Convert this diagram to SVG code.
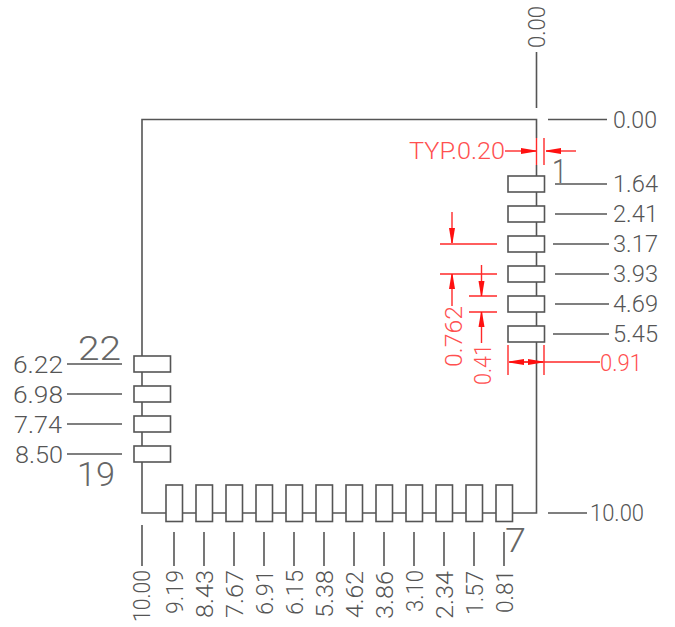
<svg xmlns="http://www.w3.org/2000/svg" width="675" height="627" viewBox="0 0 675 627">
<style>
text{font-family:Roboto,"Liberation Sans",Arial,sans-serif;font-weight:300;font-size:23.500px;fill:#555}
.big{font-size:34px;font-weight:300;fill:#666}
.r text{fill:#ff5050}
.l{stroke:#555;stroke-width:1.6;fill:none}
.pad{fill:#fff;stroke:#555;stroke-width:1.6}
.red{stroke:#ff2a2a;stroke-width:1.4;fill:none}
.a{marker-end:url(#ah)}
</style>
<defs>
<marker id="ah" markerUnits="userSpaceOnUse" markerWidth="16" markerHeight="8" refX="15" refY="4" orient="auto"><path d="M0 1L15 3.500V4.500L0 7z" fill="#ff1010"/></marker>
</defs>
<rect width="675" height="627" fill="#fff"/>
<g id="outline"><path class="l" d="M536.500 138V119.500H142V513H536.500V165"/></g>
<g id="connectors">
<g class="l">
<path d="M536.500 52V108M548 119.500H607M555 184H607M555 214H607M553 244H609M555 274H609M555 304H609M553 334H609M67 364H122M67 394H122M67 424H122M67 454H122M548 513H587"/>
<path d="M142 525V566M174 532V566M204 532V566M234 532V566M264 532V566M294 532V566M324 532V566M354 532V566M384 532V566M414 532V566M444 532V566M474 532V566M504 532V566"/>
</g>
<g class="red">
<path d="M536.500 138V165M544 138V165M440 244H497M440 274H497M469 296H497M469 312H497M508 345V375M544 345V375M510 362H600"/>
<path class="a" d="M505 151H536"/><path class="a" d="M576 151H546"/>
<path class="a" d="M452 212V243"/><path class="a" d="M452 306V274"/>
<path class="a" d="M481.500 265V296"/><path class="a" d="M481.500 343V312"/>
<path class="a" d="M526 362H509"/><path class="a" d="M526 362H543"/>
</g>
</g>
<g id="pad-1"><rect class="pad" x="508" y="176" width="36.500" height="16"/><text class="big" x="552" y="183" textLength="15" lengthAdjust="spacingAndGlyphs">1</text></g>
<g id="pad-2"><rect class="pad" x="508" y="206" width="36.500" height="16"/></g>
<g id="pad-3"><rect class="pad" x="508" y="236" width="36.500" height="16"/></g>
<g id="pad-4"><rect class="pad" x="508" y="266" width="36.500" height="16"/></g>
<g id="pad-5"><rect class="pad" x="508" y="296" width="36.500" height="16"/></g>
<g id="pad-6"><rect class="pad" x="508" y="326" width="36.500" height="16"/></g>
<g id="pad-22"><rect class="pad" x="134" y="356" width="36.500" height="16"/><text class="big" x="78" y="360" textLength="43" lengthAdjust="spacingAndGlyphs">22</text></g>
<g id="pad-21"><rect class="pad" x="134" y="386" width="36.500" height="16"/></g>
<g id="pad-20"><rect class="pad" x="134" y="416" width="36.500" height="16"/></g>
<g id="pad-19"><rect class="pad" x="134" y="446" width="36.500" height="16"/><text class="big" x="77" y="486" textLength="38" lengthAdjust="spacingAndGlyphs">19</text></g>
<g id="pad-18"><rect class="pad" x="166" y="485" width="16.500" height="36.500"/></g>
<g id="pad-17"><rect class="pad" x="196" y="485" width="16.500" height="36.500"/></g>
<g id="pad-16"><rect class="pad" x="226" y="485" width="16.500" height="36.500"/></g>
<g id="pad-15"><rect class="pad" x="256" y="485" width="16.500" height="36.500"/></g>
<g id="pad-14"><rect class="pad" x="286" y="485" width="16.500" height="36.500"/></g>
<g id="pad-13"><rect class="pad" x="316" y="485" width="16.500" height="36.500"/></g>
<g id="pad-12"><rect class="pad" x="346" y="485" width="16.500" height="36.500"/></g>
<g id="pad-11"><rect class="pad" x="376" y="485" width="16.500" height="36.500"/></g>
<g id="pad-10"><rect class="pad" x="406" y="485" width="16.500" height="36.500"/></g>
<g id="pad-9"><rect class="pad" x="436" y="485" width="16.500" height="36.500"/></g>
<g id="pad-8"><rect class="pad" x="466" y="485" width="16.500" height="36.500"/></g>
<g id="pad-7"><rect class="pad" x="496" y="485" width="16.500" height="36.500"/><text class="big" x="505" y="552" textLength="21" lengthAdjust="spacingAndGlyphs">7</text></g>
<g id="dimensions">
<text x="613" y="128" textLength="44" lengthAdjust="spacingAndGlyphs">0.00</text>
<text x="613" y="192" textLength="45" lengthAdjust="spacingAndGlyphs">1.64</text>
<text x="613" y="222" textLength="45" lengthAdjust="spacingAndGlyphs">2.41</text>
<text x="613" y="252" textLength="45" lengthAdjust="spacingAndGlyphs">3.17</text>
<text x="613" y="282" textLength="45" lengthAdjust="spacingAndGlyphs">3.93</text>
<text x="613" y="312" textLength="45" lengthAdjust="spacingAndGlyphs">4.69</text>
<text x="613" y="342" textLength="45" lengthAdjust="spacingAndGlyphs">5.45</text>
<text x="590" y="521" textLength="54" lengthAdjust="spacingAndGlyphs">10.00</text>
<text x="13" y="373" textLength="50" lengthAdjust="spacingAndGlyphs">6.22</text>
<text x="13" y="403" textLength="50" lengthAdjust="spacingAndGlyphs">6.98</text>
<text x="14" y="433" textLength="48" lengthAdjust="spacingAndGlyphs">7.74</text>
<text x="15" y="463" textLength="48" lengthAdjust="spacingAndGlyphs">8.50</text>
<text transform="translate(545 48) rotate(-90)" textLength="42" lengthAdjust="spacingAndGlyphs">0.00</text>
<text transform="translate(150 622) rotate(-90)" textLength="52" lengthAdjust="spacingAndGlyphs">10.00</text>
<text transform="translate(182.500 614) rotate(-90)" textLength="44" lengthAdjust="spacingAndGlyphs">9.19</text>
<text transform="translate(212.500 618) rotate(-90)" textLength="48" lengthAdjust="spacingAndGlyphs">8.43</text>
<text transform="translate(242.500 618) rotate(-90)" textLength="48" lengthAdjust="spacingAndGlyphs">7.67</text>
<text transform="translate(272.500 615) rotate(-90)" textLength="45" lengthAdjust="spacingAndGlyphs">6.91</text>
<text transform="translate(302.500 615) rotate(-90)" textLength="45" lengthAdjust="spacingAndGlyphs">6.15</text>
<text transform="translate(332.500 618) rotate(-90)" textLength="48" lengthAdjust="spacingAndGlyphs">5.38</text>
<text transform="translate(362.500 618) rotate(-90)" textLength="47" lengthAdjust="spacingAndGlyphs">4.62</text>
<text transform="translate(392.500 619) rotate(-90)" textLength="48" lengthAdjust="spacingAndGlyphs">3.86</text>
<text transform="translate(422.500 612) rotate(-90)" textLength="42" lengthAdjust="spacingAndGlyphs">3.10</text>
<text transform="translate(452.500 619) rotate(-90)" textLength="48" lengthAdjust="spacingAndGlyphs">2.34</text>
<text transform="translate(482.500 615) rotate(-90)" textLength="44" lengthAdjust="spacingAndGlyphs">1.57</text>
<text transform="translate(512.500 613) rotate(-90)" textLength="43" lengthAdjust="spacingAndGlyphs">0.81</text>
</g>
<g id="red-dimensions" class="r">
<text x="409" y="159" textLength="96" lengthAdjust="spacingAndGlyphs">TYP.0.20</text>
<text x="600" y="371" textLength="42" lengthAdjust="spacingAndGlyphs">0.91</text>
<text transform="translate(462 367) rotate(-90)" textLength="61" lengthAdjust="spacingAndGlyphs">0.762</text>
<text transform="translate(491 385) rotate(-90)" textLength="41" lengthAdjust="spacingAndGlyphs">0.41</text>
</g>
</svg>
